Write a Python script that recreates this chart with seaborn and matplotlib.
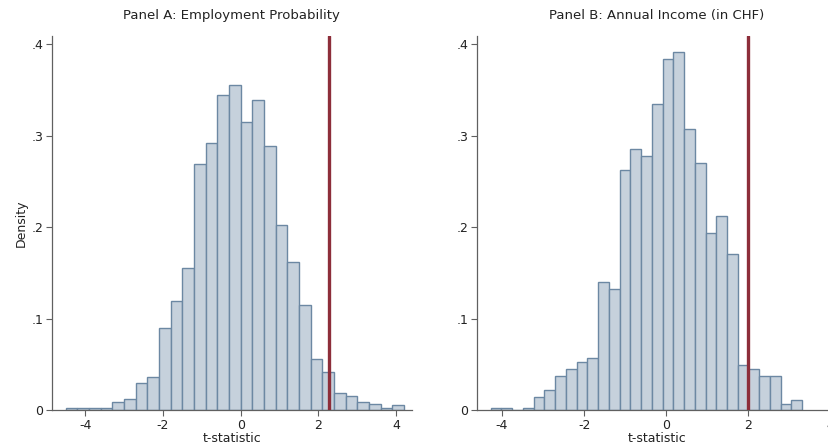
import numpy as np
import pandas as pd
import seaborn as sns
import matplotlib
matplotlib.use("Agg")
import matplotlib.pyplot as plt

# Panel A: employment probability, permutation t-statistics (density per bin)
a_start, a_width = -4.5, 0.3
a_density = [0.003, 0.003, 0.003, 0.003, 0.0095, 0.0128, 0.0295, 0.036,
             0.0896, 0.1195, 0.156, 0.269, 0.292, 0.345, 0.3556, 0.3155,
             0.3388, 0.289, 0.202, 0.1625, 0.1155, 0.0557, 0.0423, 0.0193,
             0.016, 0.0095, 0.0066, 0.003, 0.0062]
a_observed = 2.26

# Panel B: annual income (CHF)
b_start, b_width = -4.276, 0.2616
b_density = [0.003, 0.003, 0.0, 0.003, 0.0146, 0.0219, 0.0372, 0.0448,
             0.0525, 0.0568, 0.1406, 0.133, 0.2623, 0.2852, 0.2776, 0.3348,
             0.3843, 0.392, 0.3078, 0.27, 0.1938, 0.2128, 0.1709, 0.0492,
             0.0452, 0.0375, 0.0375, 0.0069, 0.0109]
b_observed = 2.0

titles = ["Panel A: Employment Probability", "Panel B: Annual Income (in CHF)"]
xticks = [-4, -2, 0, 2, 4]
yticks = [0, 0.1, 0.2, 0.3, 0.4]
ytick_labels = ["0", ".1", ".2", ".3", ".4"]

BAR_FILL = "#c6d1dc"
BAR_EDGE = "#6c88a3"
LINE_RED = "#8d2e3a"
AXIS_GREY = "#606060"

sns.set_theme(style="ticks")
plt.rcParams["font.family"] = ["DejaVu Sans"]

fig = plt.figure(figsize=(8.29, 4.47), dpi=100)
ax_a = fig.add_axes([0.0624, 0.0821, 0.4343, 0.8374])
ax_b = fig.add_axes([0.5750, 0.0821, 0.4343, 0.8374])

panels = [
    (ax_a, a_start, a_width, a_density, a_observed, (-4.86, 4.40)),
    (ax_b, b_start, b_width, b_density, b_observed, (-4.615, 4.15)),
]

for i, (ax, start, width, dens, obs, xlim) in enumerate(panels):
    n = len(dens)
    centers = start + width * (np.arange(n) + 0.5)
    df = pd.DataFrame({"t": centers, "density": dens})
    sns.histplot(data=df, x="t", weights="density", bins=n,
                 binrange=(start, start + n * width), stat="count",
                 ax=ax, color=BAR_FILL, alpha=1.0, edgecolor=BAR_EDGE,
                 linewidth=1.0)
    ax.axvline(obs, ymin=0, ymax=1, color=LINE_RED, lw=2.4, zorder=3)

    ax.set_xlim(*xlim)
    ax.set_ylim(0, 0.409)
    ax.set_xticks(xticks)
    ax.set_xticklabels([str(t) for t in xticks])
    ax.set_yticks(yticks)
    ax.set_yticklabels(ytick_labels)
    ax.tick_params(axis="both", labelsize=9, length=4, width=0.8,
                   color=AXIS_GREY, labelcolor="#222222", pad=2)
    for side in ("top", "right"):
        ax.spines[side].set_visible(False)
    for side in ("left", "bottom"):
        ax.spines[side].set_color(AXIS_GREY)
        ax.spines[side].set_linewidth(0.9)
    ax.set_xlabel("t-statistic", fontsize=9, labelpad=0, color="#222222")
    ax.set_ylabel("Density" if i == 0 else "", fontsize=9, labelpad=3,
                  color="#222222")
    ax.set_title(titles[i], fontsize=9.5, pad=12, color="#222222")

fig.savefig("out.png", dpi=100)
